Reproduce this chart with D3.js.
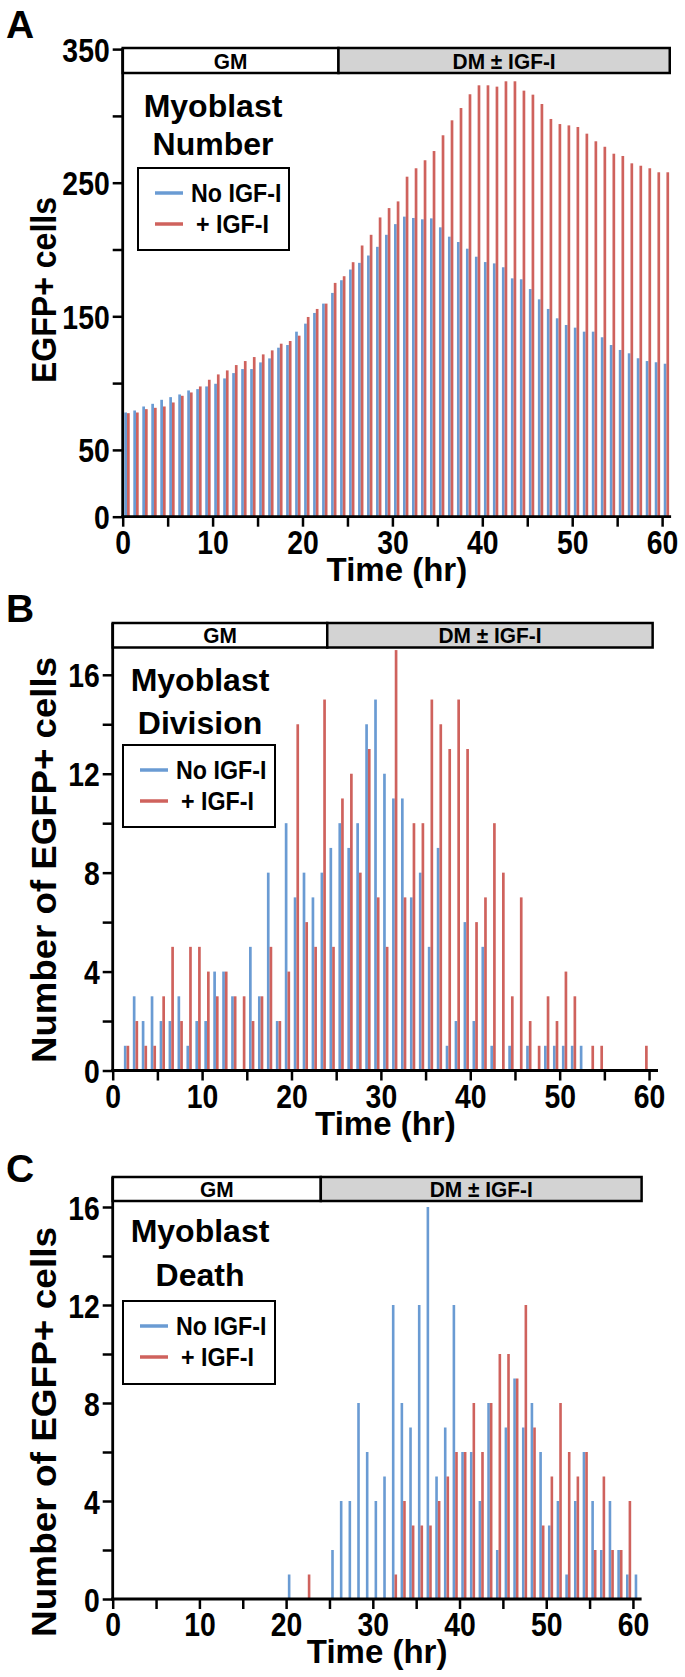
<!DOCTYPE html>
<html><head><meta charset="utf-8">
<script src="https://cdn.jsdelivr.net/npm/d3@7"></script>
<style>
body{margin:0;background:#fff}
svg{display:block}
text{font-family:"Liberation Sans",Arial,Helvetica,sans-serif;font-weight:bold;fill:#000}
</style>
</head><body>
<svg id="chart" width="685" height="1677"></svg>
<script>
// ---------- DATA ----------
const seriesNames = ["No IGF-I", "+ IGF-I"];
const headerLabels = ["GM", "DM \u00B1 IGF-I"];
const headerSplitHour = 24;
const xTickLabels = [0, 10, 20, 30, 40, 50, 60];
const xMinorTicks = [5, 15, 25, 35, 45, 55];
const yTicksA = [0, 50, 150, 250, 350];
const yMinorA = [100, 200, 300];
const yTicksBC = [0, 4, 8, 12, 16];
const yMinorBC = [2, 6, 10, 14];

// Panel A: Myoblast Number (hourly, 0..60)
const hoursA = [0,1,2,3,4,5,6,7,8,9,10,11,12,13,14,15,16,17,18,19,20,21,22,23,24,25,26,27,28,29,30,31,32,33,34,35,36,37,38,39,40,41,42,43,44,45,46,47,48,49,50,51,52,53,54,55,56,57,58,59,60];
const numberNoIGF = [78,79.5,82.5,84.5,87.5,89.5,91.5,94.5,95.5,97.5,99.5,103.5,107.5,110.5,110.5,115.5,118.5,126.5,128.5,138.5,144.5,152.5,159.5,167.5,177,185,190,195.5,202,211,219,224.6,223.6,222.6,223.3,216.6,209.6,205.6,200.6,194.6,190.6,189.6,186.7,178.4,177.7,170.4,162.7,155.5,148.5,143.5,141.5,138.5,138.5,134.3,128.5,124.8,122.3,118.6,116.5,115.6,114.5];
const numberIGF = [77.5,78,80.5,81.5,82.5,85.5,90.5,93,97.5,102.5,106.5,109.5,113.5,116.5,119.5,121.5,124.5,129.5,131.5,135.5,149.5,155.5,159.5,175,180,190.5,203,211,224,231,236,254.5,260.8,266.8,273.7,285.5,296.7,305.9,316.2,322.9,322.9,321.9,325.9,325.9,318.9,315.9,308.9,297.7,293.9,292.9,291.7,286.7,281,276.9,271.7,270,264.5,262.7,260.8,257.8,257.8];

// Panel B: Myoblast Division (hourly, 1..60)
const hoursB = [1,2,3,4,5,6,7,8,9,10,11,12,13,14,15,16,17,18,19,20,21,22,23,24,25,26,27,28,29,30,31,32,33,34,35,36,37,38,39,40,41,42,43,44,45,46,47,48,49,50,51,52,53,54,55,56,57,58,59,60];
const divisionNoIGF = [1,3,2,3,2,2,3,1,2,2,4,4,3,0,5,3,8,2,10,7,8,7,8,9,10,9,10,14,15,12,11,11,7,8,5,9,1,2,6,2,5,1,0,1,0,1,0,1,1,1,1,1,0,0,0,0,0,0,0,0];
const divisionIGF = [1,2,1,1,3,5,2,5,5,4,3,4,3,3,2,3,5,2,4,14,6,5,15,5,11,12,8,13,7,5,17,7,10,10,15,14,13,15,13,6,7,10,8,3,7,2,1,3,2,4,3,0,1,1,0,0,0,0,1,0];

// Panel C: Myoblast Death (hourly, 20..60)
const hoursC = [20,21,22,23,24,25,26,27,28,29,30,31,32,33,34,35,36,37,38,39,40,41,42,43,44,45,46,47,48,49,50,51,52,53,54,55,56,57,58,59,60];
const deathNoIGF = [1,0,0,0,0,2,4,4,8,6,4,5,12,8,7,12,16,5,7,12,6,6,4,8,2,7,9,7,8,6,3,4,1,4,6,4,2,4,2,1,1];
const deathIGF = [0,0,1,0,0,0,0,0,0,0,0,0,1,4,3,3,3,4,5,6,6,8,6,8,10,10,9,12,7,3,5,8,6,5,6,2,5,2,2,4,0];

// ---------- STYLE / LAYOUT ----------
const BLUE = "#6a9bd3", RED = "#cf625d";
const svg = d3.select("#chart");
const SX = 0.86; // horizontal condensation of tick-label digits

function txt(g, x, y, str, size, anchor, sx) {
  return g.append("text")
    .attr("transform", `translate(${x},${y}) scale(${sx == null ? 1 : sx},1)`)
    .attr("text-anchor", anchor || "start")
    .style("font-size", size + "px")
    .text(str);
}

const panels = [
  { letter: "A", letterY: 38, x0: 122.7, x1: 671.1, y0: 516.7, yTop: 49.1, yMax: 350,
    headTop: 48, headBot: 73, headEnd: 60.85,
    yTicks: yTicksA, yMinor: yMinorA, ytitle: "EGFP+ cells", ytitleY: 290, ytitleLen: 186,
    title: ["Myoblast", "Number"], titleX: 213, titleY: [117, 155],
    legend: { x: 138, y: 168, w: 151, h: 82 },
    hours: hoursA, s1: numberNoIGF, s2: numberIGF, off: [0.33, 0.63] },
  { letter: "B", letterY: 622, x0: 112.7, x1: 658.0, y0: 1070.5, yTop: 674.8, yMax: 16,
    headTop: 623, headBot: 647.5, headEnd: 60.4,
    yTicks: yTicksBC, yMinor: yMinorBC, ytitle: "Number of EGFP+ cells", ytitleY: 860, ytitleLen: 406,
    title: ["Myoblast", "Division"], titleX: 200, titleY: [691, 734],
    legend: { x: 123, y: 745, w: 152, h: 82 },
    hours: hoursB, s1: divisionNoIGF, s2: divisionIGF, off: [0.4, 0.7] },
  { letter: "C", letterY: 1182, x0: 112.7, x1: 641.6, y0: 1599, yTop: 1207, yMax: 16,
    headTop: 1177, headBot: 1201, headEnd: 61,
    yTicks: yTicksBC, yMinor: yMinorBC, ytitle: "Number of EGFP+ cells", ytitleY: 1432, ytitleLen: 410,
    title: ["Myoblast", "Death"], titleX: 200, titleY: [1242, 1286],
    legend: { x: 123, y: 1301, w: 152, h: 83 },
    hours: hoursC, s1: deathNoIGF, s2: deathIGF, off: [0.35, 0.65] }
];

panels.forEach(p => {
  const g = svg.append("g");
  const x = d3.scaleLinear().domain([0, 61]).range([p.x0, p.x1]);
  const y = d3.scaleLinear().domain([0, p.yMax]).range([p.y0, p.yTop]);
  const bw = x(0.3) - x(0);

  // panel letter
  txt(g, 6, p.letterY, p.letter, 39, "start", 1);

  // bars
  [[p.s1, BLUE, p.off[0]], [p.s2, RED, p.off[1]]].forEach(([vals, col, off]) => {
    g.append("g").selectAll("rect")
      .data(p.hours.map((h, i) => ({ h, v: vals[i] })).filter(d => d.v > 0))
      .join("rect")
      .attr("x", d => x(d.h + off) - bw / 2)
      .attr("width", bw)
      .attr("y", d => y(d.v))
      .attr("height", d => y(0) - y(d.v))
      .attr("fill", col);
  });

  // header bar (GM / DM ± IGF-I)
  const hx0 = x(0), hxs = x(headerSplitHour), hx1 = x(p.headEnd);
  g.append("rect").attr("x", hx0).attr("y", p.headTop).attr("width", hxs - hx0)
    .attr("height", p.headBot - p.headTop).attr("fill", "#fff").attr("stroke", "#000").attr("stroke-width", 2.5);
  g.append("rect").attr("x", hxs).attr("y", p.headTop).attr("width", hx1 - hxs)
    .attr("height", p.headBot - p.headTop).attr("fill", "#d3d3d3").attr("stroke", "#000").attr("stroke-width", 2.5);
  txt(g, (hx0 + hxs) / 2, p.headBot - 4.5, headerLabels[0], 22, "middle", 0.95);
  txt(g, (hxs + hx1) / 2, p.headBot - 4.5, headerLabels[1], 22, "middle", 0.95);

  // axes (ticks via d3 axes)
  const axisStyle = sel => {
    sel.select(".domain").remove();
    sel.selectAll("line").attr("stroke", "#000").attr("stroke-width", 2.5);
  };
  const yAx = g.append("g").attr("transform", `translate(${p.x0},0)`)
    .call(d3.axisLeft(y).tickValues(p.yTicks).tickSize(10).tickFormat(d3.format("d")));
  axisStyle(yAx);
  yAx.selectAll("text")
    .attr("x", null).attr("dy", null)
    .attr("transform", `translate(-13,12) scale(${SX},1)`)
    .attr("text-anchor", "end").style("font-size", "33px").attr("fill", "#000");
  const yAxM = g.append("g").attr("transform", `translate(${p.x0},0)`)
    .call(d3.axisLeft(y).tickValues(p.yMinor).tickSize(10).tickFormat(""));
  axisStyle(yAxM);

  const xAx = g.append("g").attr("transform", `translate(0,${p.y0})`)
    .call(d3.axisBottom(x).tickValues(xTickLabels).tickSize(10).tickFormat(d3.format("d")));
  axisStyle(xAx);
  xAx.selectAll("text")
    .attr("y", null).attr("dy", null)
    .attr("transform", `translate(0,37) scale(${SX},1)`)
    .style("font-size", "33px").attr("fill", "#000");
  const xAxM = g.append("g").attr("transform", `translate(0,${p.y0})`)
    .call(d3.axisBottom(x).tickValues(xMinorTicks).tickSize(10).tickFormat(""));
  axisStyle(xAxM);

  // axis lines
  g.append("line").attr("x1", p.x0).attr("x2", p.x0).attr("y1", p.y0 + 1.4).attr("y2", p.headTop)
    .attr("stroke", "#000").attr("stroke-width", 2.8);
  g.append("line").attr("x1", p.x0 - 1.4).attr("x2", p.x1).attr("y1", p.y0).attr("y2", p.y0)
    .attr("stroke", "#000").attr("stroke-width", 2.8);

  // axis titles
  txt(g, (p.x0 + p.x1) / 2, p.y0 + 64, "Time (hr)", 33, "middle", 1);
  g.append("text")
    .attr("transform", `translate(56,${p.ytitleY}) rotate(-90)`)
    .attr("text-anchor", "middle").style("font-size", "35px")
    .attr("textLength", p.ytitleLen).attr("lengthAdjust", "spacingAndGlyphs")
    .text(p.ytitle);

  // panel title
  p.title.forEach((t, i) => txt(g, p.titleX, p.titleY[i], t, 32, "middle", 1));

  // legend
  const L = p.legend;
  g.append("rect").attr("x", L.x).attr("y", L.y).attr("width", L.w).attr("height", L.h)
    .attr("fill", "#fff").attr("stroke", "#000").attr("stroke-width", 2);
  [BLUE, RED].forEach((col, i) => {
    const ly = L.y + 25 + i * 31;
    g.append("line").attr("x1", L.x + 17).attr("x2", L.x + 45).attr("y1", ly).attr("y2", ly)
      .attr("stroke", col).attr("stroke-width", 3.5);
    txt(g, L.x + 53 + i * 5, ly + 9, seriesNames[i], 25, "start", 0.93);
  });
});
</script>
</body></html>
